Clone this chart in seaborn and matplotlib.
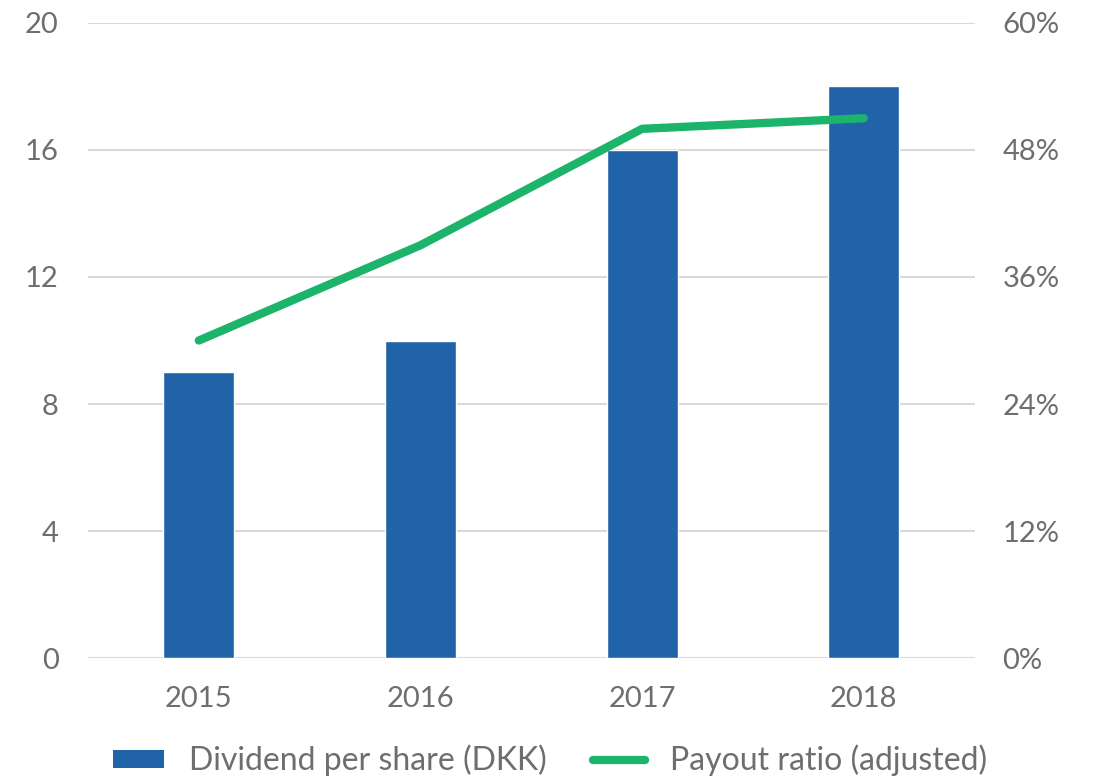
import matplotlib
matplotlib.use("Agg")
import matplotlib.pyplot as plt
from matplotlib.lines import Line2D
from matplotlib.patches import Patch
import seaborn as sns
import pandas as pd
import numpy as np

years = ["2015", "2016", "2017", "2018"]
dividend = [9, 10, 16, 18]
payout = [30, 39, 50, 51]
left_ticks = [0, 4, 8, 12, 16, 20]
right_ticks = [0, 12, 24, 36, 48, 60]

bar_color = "#2163a8"
line_color = "#1bb46a"
text_color = "#6e6e6e"
grid_color = "#d9d9d9"

sns.set_theme(style="white")
plt.rcParams["font.family"] = ["Lato", "DejaVu Sans"]
plt.rcParams["font.weight"] = "normal"

df = pd.DataFrame({"year": years, "dividend": dividend, "payout": payout})
df["pos"] = np.arange(len(df))

fig = plt.figure(figsize=(11, 7.79), dpi=100)
ax = fig.add_axes([0.08, 0.1553, 0.806, 0.8152])

sns.barplot(data=df, x="year", y="dividend", color=bar_color, saturation=1,
            width=0.32, ax=ax, zorder=3)
ax.set_ylim(0, 20)
ax.set_xlim(-0.5, 3.5)
ax.set_yticks(left_ticks)
ax.set_yticklabels([str(t) for t in left_ticks])
ax.grid(axis="y", color=grid_color, lw=1.5, zorder=0)
ax.set_axisbelow(True)
for s in ax.spines.values():
    s.set_visible(False)
ax.set_xlabel("")
ax.set_ylabel("")
ax.tick_params(axis="both", length=0, labelsize=21, labelcolor=text_color)
ax.tick_params(axis="y", pad=21)
ax.tick_params(axis="x", pad=20)

ax2 = ax.twinx()
sns.lineplot(data=df, x="pos", y="payout", color=line_color, lw=6, ax=ax2,
             solid_capstyle="round", solid_joinstyle="round", zorder=4)
ax2.set_ylim(0, 60)
ax2.set_xlim(-0.5, 3.5)
ax2.set_yticks(right_ticks)
ax2.set_yticklabels([f"{t}%" for t in right_ticks])
for s in ax2.spines.values():
    s.set_visible(False)
ax2.set_xlabel("")
ax2.set_ylabel("")
ax2.tick_params(axis="both", length=0, labelsize=21, labelcolor=text_color)
ax2.tick_params(axis="y", pad=20)
ax2.grid(False)

handles = [Patch(facecolor=bar_color, edgecolor="none"),
           Line2D([0], [0], color=line_color, lw=6, solid_capstyle="round")]
labels = ["Dividend per share (DKK)", "Payout ratio (adjusted)"]
leg = fig.legend(handles, labels, loc="center", bbox_to_anchor=(0.5, 0.024),
                 ncol=2, frameon=False, fontsize=23, handlelength=1.6,
                 handleheight=0.48, columnspacing=1.45, handletextpad=0.78)
for t in leg.get_texts():
    t.set_color(text_color)

fig.savefig("out.png", dpi=100)
